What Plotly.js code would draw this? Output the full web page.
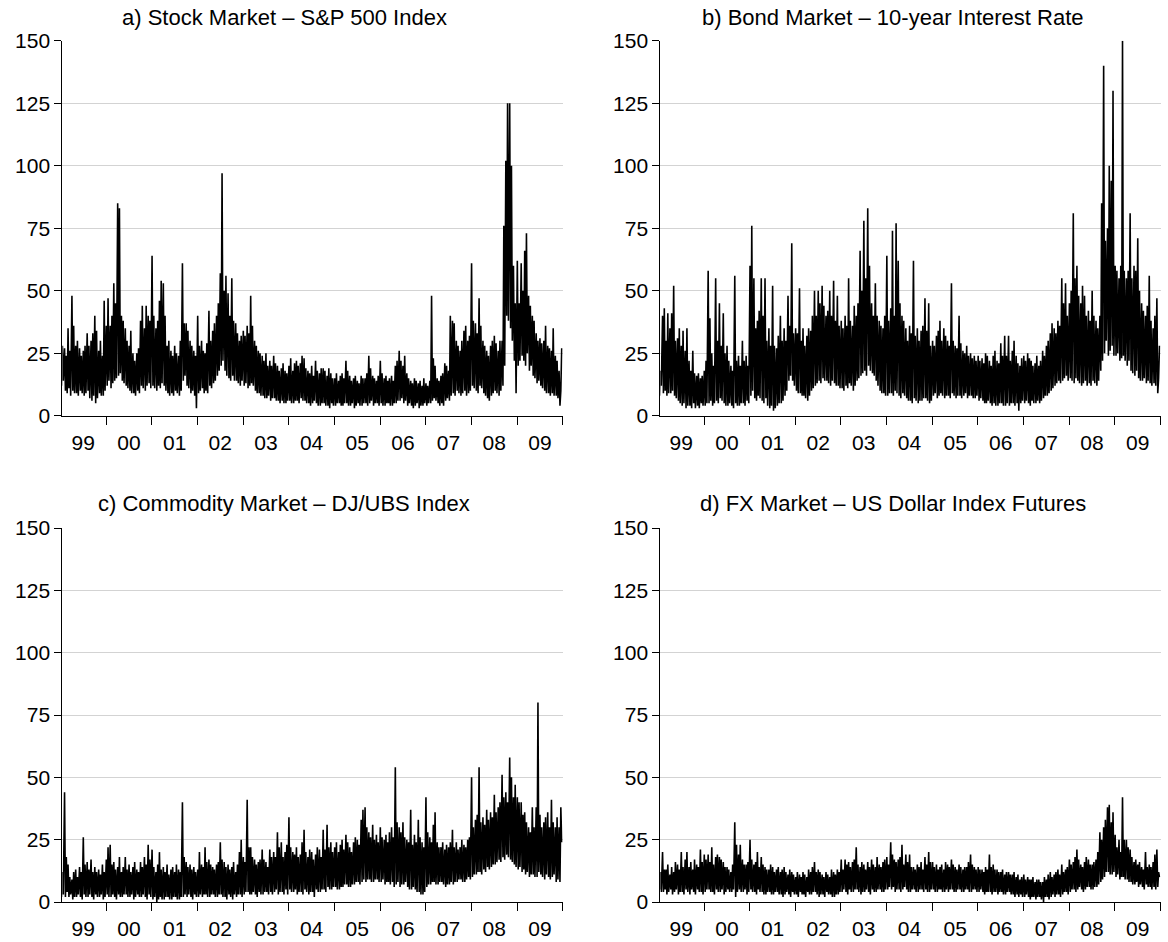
<!DOCTYPE html>
<html><head><meta charset="utf-8">
<script src="https://cdn.plot.ly/plotly-3.0.1.min.js"></script>
<style>html,body{margin:0;padding:0;background:#fff}#chart{width:1168px;height:942px}</style>
</head><body><div id="chart"></div>
<script>
// Sampling: four readings per month (days below), years 1999-2009
const years = [1999,2000,2001,2002,2003,2004,2005,2006,2007,2008,2009];
const sampleDays = [3,10,17,24];
const yTicks = [0,25,50,75,100,125,150];
const panelTitles = [
  'a) Stock Market \u2013 S&P 500 Index',
  'b) Bond Market \u2013 10-year Interest Rate',
  'c) Commodity Market \u2013 DJ/UBS Index',
  'd) FX Market \u2013 US Dollar Index Futures'
];

// a) S&P 500 (one row per year, 4 values per month)
const stockSP500 = [
 22,12,28,14, 27,10,24,9, 35,11,26,8, 48,10,36,9, 28,9,30,8, 27,10,24,9, 26,8,28,9, 33,10,28,7, 30,6,33,8, 40,5,34,7, 26,9,30,8, 24,8,46,10,
 36,12,47,14, 36,11,40,13, 53,14,45,15, 85,16,83,17, 40,14,38,13, 35,12,30,11, 28,10,34,9, 25,9,22,8, 25,10,27,9, 38,12,44,11, 35,10,44,12, 40,13,38,11,
 64,12,40,11, 35,10,38,12, 46,11,54,13, 53,12,40,10, 28,9,30,8, 26,9,24,8, 28,10,25,9, 24,8,30,10, 61,14,37,16, 37,12,34,11, 30,9,28,10, 26,8,24,3,
 40,9,28,10, 30,11,26,9, 25,10,29,9, 42,12,30,11, 34,13,37,14, 40,16,45,18, 57,20,97,22, 50,18,56,16, 49,15,40,14, 55,16,38,14, 37,14,33,13, 30,12,32,14,
 34,12,32,13, 36,11,33,12, 48,13,36,12, 30,10,28,9, 26,9,25,8, 24,8,22,7, 25,7,20,8, 22,6,20,7, 24,7,21,6, 20,6,18,5, 19,6,21,5, 18,5,17,6,
 20,6,23,5, 18,5,21,6, 22,6,20,5, 21,7,24,6, 23,6,19,5, 18,5,17,4, 20,5,16,6, 22,5,18,4, 17,4,19,5, 19,5,18,4, 16,4,19,3, 17,5,15,4,
 15,4,17,5, 14,5,16,4, 17,4,15,5, 22,5,18,4, 16,4,14,5, 15,3,16,4, 14,5,13,4, 16,4,15,5, 15,5,17,4, 24,5,19,6, 16,4,15,5, 14,5,16,4,
 22,5,17,4, 15,4,16,5, 14,5,15,4, 16,4,14,5, 20,5,22,6, 26,6,22,7, 20,5,24,6, 17,4,15,5, 14,4,13,3, 15,4,14,5, 13,3,14,4, 12,4,15,5,
 13,4,12,5, 14,5,48,6, 23,7,20,6, 15,5,14,4, 16,5,17,4, 21,6,20,7, 18,6,40,8, 38,9,37,8, 30,10,28,9, 26,8,30,9, 34,10,36,8, 30,9,32,10,
 61,12,38,11, 37,10,33,9, 47,12,36,11, 30,9,28,8, 26,7,24,6, 28,8,30,9, 32,10,29,9, 26,8,30,10, 30,12,76,20, 102,40,125,38, 125,35,100,30, 60,22,45,9,
 62,20,45,22, 61,24,50,22, 66,20,73,25, 48,18,44,20, 40,16,38,15, 33,13,30,14, 31,12,29,11, 30,10,36,9, 28,9,27,8, 26,9,35,8, 24,8,22,7, 18,4,10,27
];

// b) 10-year interest rate
const bond10y = [
 22,8,18,12, 40,9,43,10, 30,8,41,9, 35,9,41,10, 52,8,30,7, 31,6,35,5, 28,4,34,5, 26,3,35,4, 22,4,18,3, 26,5,17,3, 16,4,17,3, 15,5,16,4,
 18,4,22,5, 58,5,39,6, 25,4,20,5, 55,6,30,5, 45,7,28,6, 41,5,25,4, 28,4,22,5, 20,4,18,3, 56,5,22,4, 24,4,20,5, 30,5,22,4, 24,6,20,5,
 60,8,76,10, 55,7,35,6, 38,8,42,7, 55,6,40,5, 55,7,30,4, 35,3,28,4, 52,2,28,3, 27,4,32,5, 40,5,30,6, 35,8,30,10, 48,14,36,16, 69,14,33,12,
 35,10,33,9, 51,9,30,8, 35,8,28,7, 32,6,35,8, 34,10,40,11, 50,12,40,13, 50,14,45,13, 52,15,44,14, 40,14,42,13, 50,12,40,14, 54,13,38,12, 48,12,36,11,
 38,11,35,10, 40,12,36,11, 55,13,38,12, 36,10,44,12, 40,14,45,15, 66,16,50,17, 78,18,55,16, 83,20,60,18, 45,17,40,16, 53,14,40,12, 38,10,36,9, 35,9,40,8,
 64,8,38,9, 43,9,74,8, 40,10,77,9, 62,8,45,7, 40,9,38,8, 35,7,30,6, 36,6,33,5, 62,7,32,6, 35,5,30,6, 34,6,36,7, 47,7,34,6, 45,5,28,6,
 30,8,28,9, 32,7,34,8, 38,9,30,8, 35,7,32,8, 30,8,28,7, 53,9,30,8, 28,7,27,8, 40,8,29,7, 26,8,25,9, 28,7,24,8, 25,8,23,7, 24,7,22,8,
 24,6,22,7, 23,6,21,5, 25,5,24,6, 22,5,20,4, 24,5,26,4, 22,4,21,5, 29,5,24,4, 32,4,24,5, 32,4,22,5, 26,5,30,4, 24,5,21,2, 20,5,23,6,
 24,5,22,6, 25,5,23,4, 22,6,20,5, 21,5,24,6, 20,5,22,6, 26,7,24,8, 28,8,30,9, 33,10,37,11, 35,12,33,13, 38,14,36,13, 55,14,45,15, 53,16,40,14,
 45,15,50,14, 81,13,55,15, 60,14,48,13, 45,12,52,13, 48,14,40,12, 42,13,38,12, 50,14,40,13, 38,12,35,14, 40,18,85,22, 140,25,70,30, 75,24,100,26, 94,28,130,24,
 60,24,58,25, 55,22,60,23, 150,24,58,22, 55,20,58,22, 81,18,55,17, 60,16,58,18, 71,15,50,14, 45,14,42,15, 40,13,44,14, 56,13,38,12, 35,13,40,12, 47,9,15,28
];

// c) DJ/UBS commodity index
const commodityDJUBS = [
 8,2,12,3, 44,2,18,4, 15,2,10,3, 9,1,12,2, 13,2,10,3, 14,2,12,1, 26,3,15,2, 16,2,13,3, 17,2,12,1, 14,3,12,2, 13,2,11,3, 15,1,12,2,
 17,3,22,2, 23,2,15,3, 16,2,13,1, 14,3,18,2, 12,2,14,3, 18,3,13,2, 15,2,12,3, 14,1,16,2, 13,3,12,2, 16,2,14,3, 18,2,15,1, 23,3,17,2,
 21,1,14,2, 12,0,15,1, 20,2,13,1, 14,1,12,2, 15,2,11,1, 13,1,14,2, 12,2,15,1, 13,1,12,2, 40,2,18,3, 16,2,14,3, 15,2,13,1, 14,3,12,2,
 13,2,20,3, 15,2,14,3, 22,3,16,2, 17,2,15,3, 14,3,13,2, 15,2,16,3, 24,3,17,2, 16,2,14,1, 15,3,13,2, 14,1,16,3, 12,2,15,3, 20,3,25,2,
 18,3,16,4, 41,4,22,3, 22,3,18,4, 17,3,15,2, 16,4,17,3, 21,3,17,4, 16,4,14,3, 21,4,18,3, 20,4,18,5, 28,3,22,4, 24,4,18,3, 20,5,23,3,
 34,5,22,4, 20,4,19,5, 22,3,18,4, 19,4,24,3, 29,5,20,4, 18,3,21,4, 20,4,17,2, 19,5,22,4, 21,4,18,5, 29,5,21,4, 31,6,22,5, 24,5,20,6,
 22,6,24,5, 20,5,23,6, 25,6,21,7, 27,7,24,6, 22,6,20,7, 24,7,26,8, 25,8,23,7, 33,8,37,9, 38,8,30,9, 28,9,26,8, 31,8,25,9, 27,9,24,8,
 30,8,26,9, 25,7,27,8, 24,8,28,7, 30,8,26,6, 54,7,32,8, 30,6,28,7, 32,7,26,8, 25,6,24,5, 37,5,23,6, 27,5,24,4, 33,4,26,3, 24,3,22,4,
 42,6,28,7, 26,7,24,8, 31,8,36,7, 24,7,22,8, 22,8,24,7, 21,6,23,7, 22,7,24,8, 29,7,22,8, 24,8,21,9, 22,9,25,8, 23,8,22,9, 25,10,26,9,
 50,10,30,11, 33,11,35,12, 54,12,32,11, 34,13,31,12, 37,14,33,13, 36,14,34,15, 43,15,36,16, 38,17,40,16, 51,18,42,17, 44,19,40,18, 58,17,50,16, 42,15,47,14,
 42,13,40,14, 40,12,35,13, 36,11,32,12, 30,10,28,11, 38,11,30,10, 38,10,80,12, 35,11,30,10, 32,9,34,11, 36,10,30,9, 41,10,32,11, 30,8,34,9, 30,8,38,24
];

// d) US Dollar Index futures
const fxUSDIndex = [
 14,5,12,4, 20,4,13,5, 13,3,15,4, 11,5,14,3, 12,4,16,5, 15,3,13,4, 20,4,14,3, 17,5,20,4, 14,3,16,5, 13,4,17,3, 15,5,14,4, 21,4,16,3,
 19,4,17,5, 19,5,16,4, 22,4,15,3, 18,5,19,4, 18,4,17,5, 16,3,14,4, 14,5,13,4, 12,4,15,5, 32,2,23,4, 19,5,23,4, 17,4,15,5, 15,3,16,4,
 25,5,17,4, 15,4,16,3, 20,5,14,4, 18,4,15,3, 14,3,13,4, 13,4,15,3, 14,3,12,4, 13,4,14,3, 12,3,13,2, 14,3,12,4, 11,3,13,2, 12,4,11,3,
 10,3,12,2, 11,4,10,3, 12,3,11,2, 10,4,13,3, 12,3,14,4, 16,4,12,3, 13,2,12,3, 11,3,10,2, 12,4,11,3, 10,3,13,2, 12,2,11,3, 13,3,12,4,
 17,4,13,5, 17,4,15,3, 16,5,14,4, 16,4,17,5, 22,5,15,4, 14,3,16,4, 15,4,13,5, 16,4,14,3, 17,5,15,4, 14,4,18,5, 15,5,14,4, 16,4,17,5,
 18,5,15,6, 24,5,19,6, 17,4,16,5, 17,5,18,4, 23,5,15,6, 19,5,16,4, 19,4,14,5, 14,5,13,4, 15,4,14,5, 16,5,13,4, 18,5,15,4, 20,4,16,5,
 16,5,14,4, 15,4,13,5, 14,5,15,4, 13,4,16,5, 15,4,14,5, 17,5,15,4, 14,4,13,5, 15,5,14,4, 13,4,14,5, 14,5,16,4, 19,4,15,5, 14,5,13,4,
 14,4,13,5, 13,4,12,3, 14,4,13,4, 19,4,14,3, 15,4,13,4, 13,3,12,4, 12,4,13,3, 11,3,12,4, 12,4,11,3, 11,3,12,2, 10,3,11,2, 9,3,10,2,
 11,2,9,3, 10,2,9,1, 9,2,10,2, 8,1,9,2, 9,2,8,1, 8,0,10,2, 9,2,11,1, 12,2,10,3, 11,2,12,3, 13,3,11,2, 15,3,12,4, 13,4,14,3,
 17,4,15,5, 16,5,18,4, 21,5,17,6, 15,5,14,4, 16,5,18,6, 17,6,15,5, 15,5,16,6, 17,6,20,7, 28,8,25,9, 30,10,33,12, 38,12,39,11, 32,11,36,12,
 27,10,22,11, 25,9,20,10, 42,10,25,9, 25,9,22,8, 21,8,18,7, 16,7,17,8, 15,6,16,7, 14,6,13,5, 20,7,14,6, 15,6,14,5, 16,6,19,5, 21,6,12,10
];

// Date index for the readings
const dates = [];
years.forEach(function (y) {
  for (let m = 1; m <= 12; m++) {
    sampleDays.forEach(function (d) {
      dates.push(y + '-' + String(m).padStart(2, '0') + '-' + String(d).padStart(2, '0'));
    });
  }
});

const seriesList = [stockSP500, bond10y, commodityDJUBS, fxUSDIndex];
const traces = seriesList.map(function (vals, i) {
  const n = i === 0 ? '' : String(i + 1);
  return {
    type: 'scatter', mode: 'lines', x: dates, y: vals,
    xaxis: 'x' + n, yaxis: 'y' + n,
    line: {color: '#000000', width: 1.6, simplify: false},
    hoverinfo: 'skip', showlegend: false
  };
});

const FONT = 'Liberation Sans, Arial, Helvetica, sans-serif';
const tickFont = {family: FONT, size: 21, color: '#000'};
const xDomL = [0.05334, 0.48177], xDomR = [0.56533, 0.99358];
const yDomT = [0.55871, 0.95679], yDomB = [0.04246, 0.43949];

function xAxis(domain, anchor) {
  return {
    domain: domain, anchor: anchor, type: 'date',
    range: ['1999-01-16', '2010-01-01'],
    tick0: '2000-01-01', dtick: 'M12', tickformat: '%y', ticklabelmode: 'period',
    ticks: 'outside', ticklen: 8, tickwidth: 1, tickcolor: '#000',
    showline: true, linecolor: '#000', linewidth: 1,
    showgrid: false, zeroline: false, tickfont: tickFont, fixedrange: true
  };
}
function yAxis(domain, anchor) {
  return {
    domain: domain, anchor: anchor, range: [0, 150],
    tickmode: 'array', tickvals: yTicks, ticktext: yTicks.map(String),
    ticks: 'outside', ticklen: 7, tickwidth: 1, tickcolor: '#000',
    showline: true, linecolor: '#000', linewidth: 1,
    showgrid: true, gridcolor: '#d3d3d3', gridwidth: 1,
    zeroline: false, tickfont: tickFont, fixedrange: true
  };
}

const titleY = [0.9817, 0.9817, 0.4660, 0.4660];
const titleX = [0.2432, 0.7646, 0.2432, 0.7646];
const annotations = panelTitles.map(function (t, i) {
  return {
    text: t, xref: 'paper', yref: 'paper', x: titleX[i], y: titleY[i],
    xanchor: 'center', yanchor: 'middle', showarrow: false,
    font: {family: FONT, size: 22, color: '#000'}
  };
});

const layout = {
  width: 1168, height: 942,
  margin: {l: 0, r: 0, t: 0, b: 0},
  paper_bgcolor: '#fff', plot_bgcolor: '#fff',
  showlegend: false,
  xaxis: xAxis(xDomL, 'y'), yaxis: yAxis(yDomT, 'x'),
  xaxis2: xAxis(xDomR, 'y2'), yaxis2: yAxis(yDomT, 'x2'),
  xaxis3: xAxis(xDomL, 'y3'), yaxis3: yAxis(yDomB, 'x3'),
  xaxis4: xAxis(xDomR, 'y4'), yaxis4: yAxis(yDomB, 'x4'),
  annotations: annotations
};

Plotly.newPlot('chart', traces, layout, {displayModeBar: false, staticPlot: true});
</script>
</body></html>
